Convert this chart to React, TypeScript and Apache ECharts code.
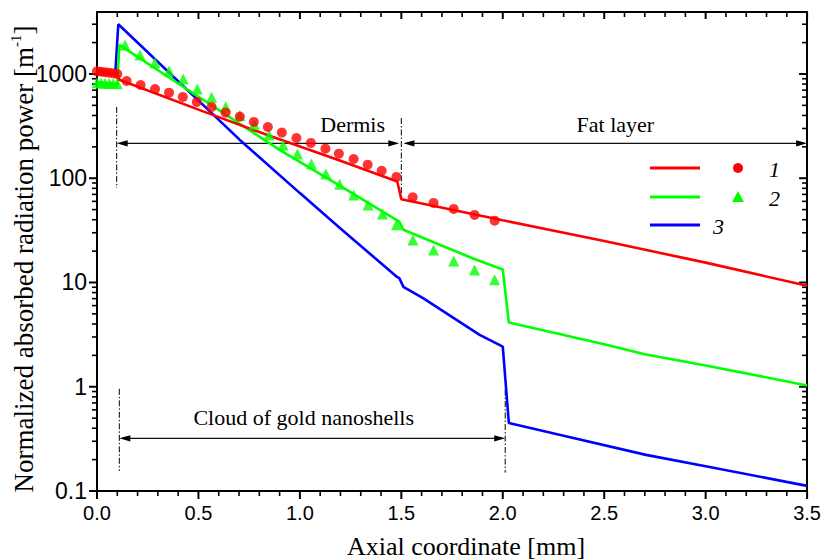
import React, { useEffect, useRef } from "react";
import * as echarts from "echarts";

// ---- data (x: axial coordinate, mm; y: normalized absorbed power, m^-1) ----
const redLineX = [0, 0.1, 0.11, 0.5, 0.85, 1.2, 1.48, 1.5, 2.0, 2.5, 3.0, 3.5];
const redLineY = [1070, 1000, 880, 455, 255, 147, 93, 63, 39.5, 25, 15.5, 9.3];

const greenLineX = [0, 0.1, 0.11, 0.5, 0.9, 1.2, 1.49, 1.51, 1.86, 2.0, 2.03, 2.5, 2.7, 3.0, 3.5];
const greenLineY = [830, 800, 1900, 605, 187, 84, 38.4, 32, 16.8, 13.3, 4.13, 2.55, 2.05, 1.6, 1.03];

const blueLineX = [0, 0.09, 0.105, 0.704, 1.0, 1.2, 1.476, 1.49, 1.51, 1.607, 1.886, 2.0, 2.03, 2.3, 2.706, 3.0, 3.5];
const blueLineY = [1000, 1000, 3000, 233, 72, 33, 11.4, 11, 9.1, 7.07, 3.14, 2.43, 0.448, 0.339, 0.222, 0.173, 0.112];

const redDotX = [0, 0.02, 0.04, 0.06, 0.08, 0.1, 0.146, 0.215, 0.286, 0.355, 0.423, 0.492, 0.565, 0.634, 0.704, 0.773, 0.842, 0.911, 0.983, 1.054, 1.126, 1.192, 1.265, 1.334, 1.403, 1.476, 1.556, 1.659, 1.758, 1.861, 1.96];
const redDotY = [1060, 1050, 1040, 1030, 1015, 1000, 857, 784, 718, 662, 602, 539, 483, 426, 390, 347, 310, 274, 243, 218, 192, 172, 153, 135, 118, 103, 65.7, 58, 50.8, 44.5, 39.2];

const greenTriX = [0, 0.02, 0.04, 0.06, 0.08, 0.1, 0.138, 0.212, 0.286, 0.355, 0.425, 0.494, 0.565, 0.634, 0.704, 0.775, 0.848, 0.917, 0.988, 1.057, 1.128, 1.196, 1.265, 1.336, 1.407, 1.476, 1.557, 1.659, 1.758, 1.861, 1.96];
const greenTriY = [825, 820, 815, 812, 808, 805, 1896, 1521, 1283, 1069, 895, 718, 598, 486, 400, 330, 260, 208, 171, 137, 110, 87.6, 69, 55.4, 45.5, 35.7, 25.6, 20.5, 16.1, 13.2, 10.6];

const xTickLabels = ["0.0", "0.5", "1.0", "1.5", "2.0", "2.5", "3.0", "3.5"];
const yTickLabels = ["0.1", "1", "10", "100", "1000"];

// annotation anchors in data coordinates
const layerBoundaryX = [0.097, 1.5];
const layerBoundaryTop = [483, 378];
const layerBoundaryBottom = [80.7, 62];
const layerArrowY = 216;
const cloudX = [0.11, 2.012];
const cloudTop = [0.955, 0.94];
const cloudBottom = [0.156, 0.15];
const cloudArrowY = 0.32;

export default function App() {
  const ref = useRef<HTMLDivElement>(null);
  useEffect(() => {
    const el = ref.current!;
    const chart = echarts.init(el, null, { renderer: "svg" });
    const serif = "'Liberation Serif', 'Times New Roman', serif";
    const sans = "'Liberation Sans', Arial, sans-serif";
    const zip = (xs: number[], ys: number[]) => xs.map((x, i) => [x, ys[i]]);
    const yMin = 0.1;
    const yMax = 3930;
    const axisLine = { show: true, onZero: false, lineStyle: { color: "#000", width: 2 } };

    const isPow10 = (v: number) => {
      const l = Math.log10(v);
      return Math.abs(l - Math.round(l)) < 1e-6;
    };

    chart.setOption({
      animation: false,
      backgroundColor: "#fff",
      grid: { left: 97, top: 12, width: 711, height: 479, containLabel: false },
      xAxis: [
        {
          type: "value", min: 0, max: 3.5, interval: 0.5, position: "bottom",
          axisLine, splitLine: { show: false }, axisTick: { show: false },
          axisLabel: {
            margin: 12, color: "#000", fontFamily: sans, fontSize: 20,
            formatter: (v: number) => xTickLabels[Math.round(v / 0.5)] ?? "",
          },
        },
        {
          type: "value", min: 0, max: 3.5, interval: 0.5, position: "top",
          axisLine, splitLine: { show: false }, axisTick: { show: false },
          axisLabel: { show: false },
        },
      ],
      yAxis: [
        {
          type: "log", logBase: 10, min: yMin, max: yMax, position: "left",
          axisLine, splitLine: { show: false }, axisTick: { show: false },
          axisLabel: {
            margin: 10, color: "#000", fontFamily: sans, fontSize: 23,
            formatter: (v: number) => {
              if (!isPow10(v)) return "";
              const i = Math.round(Math.log10(v)) + 1;
              return yTickLabels[i] ?? "";
            },
          },
        },
        {
          type: "log", logBase: 10, min: yMin, max: yMax, position: "right",
          axisLine, splitLine: { show: false }, axisTick: { show: false },
          axisLabel: { show: false },
        },
      ],
      series: [
        { type: "line", name: "3", data: zip(blueLineX, blueLineY), showSymbol: false, symbol: "none", lineStyle: { color: "#0000ff", width: 2.6 }, z: 2 },
        { type: "line", name: "2", data: zip(greenLineX, greenLineY), showSymbol: false, symbol: "none", lineStyle: { color: "#00ff00", width: 2.6 }, z: 3 },
        { type: "line", name: "1", data: zip(redLineX, redLineY), showSymbol: false, symbol: "none", lineStyle: { color: "#ff0000", width: 2.6 }, z: 4 },
        { type: "scatter", name: "2e", data: zip(greenTriX, greenTriY), symbol: "triangle", symbolSize: 11, itemStyle: { color: "#00ff00" }, z: 5 },
        { type: "scatter", name: "1e", data: zip(redDotX, redDotY), symbol: "circle", symbolSize: 10, itemStyle: { color: "#ff0000" }, z: 6 },
      ],
    });

    const P = (x: number, y: number) => chart.convertToPixel({ seriesIndex: 0 }, [x, y]) as number[];
    const elements: any[] = [];
    const black = "#000";
    const dash = [6, 2, 1.5, 2];
    // ticks drawn as small filled rectangles
    const vTick = (x: number, y0: number, len: number, w: number) =>
      elements.push({ type: "rect", shape: { x: x - w / 2, y: Math.min(y0, y0 + len), width: w, height: Math.abs(len) }, style: { fill: black }, silent: true });
    const hTick = (y: number, x0: number, len: number, w: number) =>
      elements.push({ type: "rect", shape: { x: Math.min(x0, x0 + len), y: y - w / 2, width: Math.abs(len), height: w }, style: { fill: black }, silent: true });

    // ticks: bottom/left point outward, top/right point inward
    const xl = P(0, 1)[0];
    const xr = P(3.5, 1)[0];
    const yb = P(0, yMin)[1];
    const yt = P(0, yMax)[1];
    for (let i = 0; i <= 35; i++) {
      const x = P(i / 10, 1)[0];
      const major = i % 5 === 0;
      vTick(x, yb, major ? 8 : 5, major ? 2 : 1.6);
      vTick(x, yt, major ? 7 : 5, major ? 2 : 1.6);
    }
    for (let d = -1; d <= 3; d++) {
      for (let k = 1; k <= 9; k++) {
        const v = k * Math.pow(10, d);
        if (v > yMax) continue;
        const y = P(0, v)[1];
        const major = k === 1;
        hTick(y, xl, major ? -8 : -5, major ? 2 : 1.6);
        hTick(y, xr, major ? -8 : -5, major ? 2 : 1.6);
      }
    }

    const vline = (x: number, yTop: number, yBot: number) => {
      const a = P(x, yTop);
      const b = P(x, yBot);
      elements.push({ type: "line", shape: { x1: a[0], y1: a[1], x2: b[0], y2: b[1] }, style: { stroke: black, lineWidth: 1, lineDash: dash }, silent: true });
    };
    const arrow = (x1: number, x2: number, yv: number) => {
      const a = P(x1, yv);
      const b = P(x2, yv);
      const L = 11, H = 3.2;
      elements.push({ type: "line", shape: { x1: a[0] + 4, y1: a[1], x2: b[0] - 4, y2: b[1] }, style: { stroke: "#111", lineWidth: 1.4 }, silent: true });
      elements.push({ type: "polygon", shape: { points: [[a[0], a[1]], [a[0] + L, a[1] - H], [a[0] + L, a[1] + H]] }, style: { fill: black }, silent: true });
      elements.push({ type: "polygon", shape: { points: [[b[0], b[1]], [b[0] - L, b[1] - H], [b[0] - L, b[1] + H]] }, style: { fill: black }, silent: true });
    };

    vline(layerBoundaryX[0], layerBoundaryTop[0], layerBoundaryBottom[0]);
    vline(layerBoundaryX[1], layerBoundaryTop[1], layerBoundaryBottom[1]);
    arrow(layerBoundaryX[0], layerBoundaryX[1] - 0.01, layerArrowY);
    arrow(layerBoundaryX[1] + 0.01, 3.5, layerArrowY);
    vline(cloudX[0], cloudTop[0], cloudBottom[0]);
    vline(cloudX[1], cloudTop[1], cloudBottom[1]);
    arrow(cloudX[0], cloudX[1], cloudArrowY);

    const label = (text: string, x: number, yv: number) => {
      const p = P(x, yv);
      elements.push({ type: "text", x: p[0], y: p[1], style: { text, fontFamily: serif, fontSize: 22, fill: black, align: "center", verticalAlign: "middle" }, silent: true });
    };
    label("Dermis", 1.26, 324);
    label("Fat layer", 2.555, 324);
    label("Cloud of gold nanoshells", 1.019, 0.509);

    // legend
    const legendRows = [
      { color: "#ff0000", y: 168, mark: "circle", num: "1", nx: 769 },
      { color: "#00ff00", y: 197, mark: "triangle", num: "2", nx: 769 },
      { color: "#0000ff", y: 225, mark: "", num: "3", nx: 713 },
    ];
    legendRows.forEach((r) => {
      elements.push({ type: "line", shape: { x1: 650, y1: r.y, x2: 700, y2: r.y }, style: { stroke: r.color, lineWidth: 3 }, silent: true });
      if (r.mark === "circle") elements.push({ type: "circle", shape: { cx: 738, cy: r.y, r: 5 }, style: { fill: r.color }, silent: true });
      if (r.mark === "triangle") elements.push({ type: "polygon", shape: { points: [[738, r.y - 6], [732, r.y + 5], [744, r.y + 5]] }, style: { fill: r.color }, silent: true });
      elements.push({ type: "text", x: r.nx, y: r.y + 1, style: { text: r.num, fontFamily: serif, fontStyle: "italic", fontSize: 22, fill: black, align: "left", verticalAlign: "middle" }, silent: true });
    });

    // axis titles
    elements.push({ type: "text", x: 466, y: 546, style: { text: "Axial coordinate [mm]", fontFamily: serif, fontSize: 26, fill: black, align: "center", verticalAlign: "middle" }, silent: true });
    elements.push({
      type: "text", x: 24, y: 259, rotation: Math.PI / 2,
      style: {
        text: "{a|Normalized absorbed radiation power [m}{s|-1}{a|]}",
        rich: {
          a: { fontFamily: serif, fontSize: 27, fill: black, lineHeight: 31 },
          s: { fontFamily: serif, fontSize: 15, fill: black, verticalAlign: "top", lineHeight: 31 },
        },
        align: "center", verticalAlign: "middle",
      },
      silent: true,
    });

    chart.setOption({ graphic: { elements } });
    return () => chart.dispose();
  }, []);
  return <div ref={ref} style={{ position: "fixed", left: 0, top: 0, width: 824, height: 560, background: "#fff" }} />;
}
